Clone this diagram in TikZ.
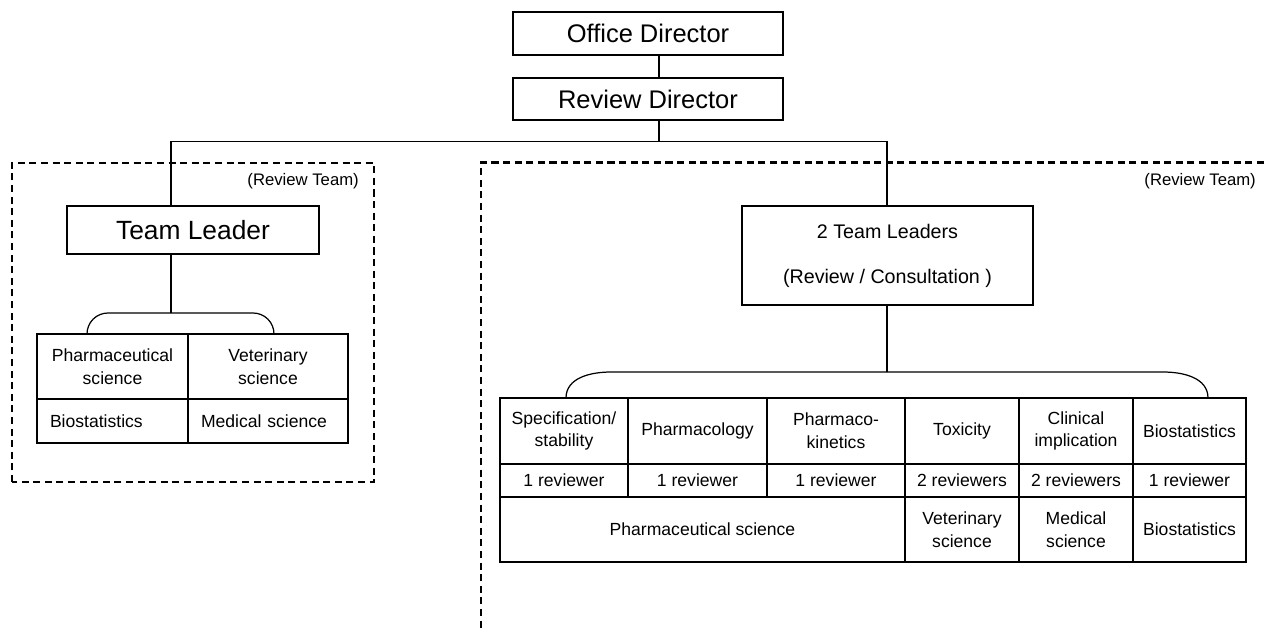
\documentclass[tikz,border=0pt]{standalone}
\usepackage{fontspec}
\setmainfont{Liberation Sans}
\usetikzlibrary{positioning,calc}

\begin{document}
\begin{tikzpicture}[
  every node/.style={font=\fontsize{10}{13}\selectfont},
  box/.style={
    draw,
    line width=0.8pt,
    inner sep=0pt,
    align=center
  },
  cell/.style={
    draw,
    line width=0.9pt,
    inner sep=0pt,
    align=center
  },
  lcell/.style={
    draw,
    line width=0.9pt,
    inner ysep=0pt,
    inner xsep=0.26cm,
    align=left
  },
  team/.style={dash pattern=on 4pt off 2.6pt, line width=1.4pt},
  link/.style={line width=0.6pt},
  brace/.style={line width=0.7pt},
  tag/.style={anchor=east, font=\fontsize{9.5}{11}\selectfont}
]

\useasboundingbox (0,0) rectangle (25.28,12.6);

% ------------------------------------------------
% Directors
% ------------------------------------------------
\node[box, minimum width=5.4cm, minimum height=0.86cm, font=\fontsize{14.5}{17}\selectfont]
  (office) at (12.96,11.93) {Office Director};
\node[box, minimum width=5.4cm, minimum height=0.84cm, font=\fontsize{14.5}{17}\selectfont]
  (review) at (12.96,10.62) {Review Director};

% bus lane (hidden helpers)
\coordinate (spine) at (13.18,9.77);
\coordinate (lbus)  at (3.42,9.77);
\coordinate (rbus)  at (17.74,9.77);

% ------------------------------------------------
% Left review team
% ------------------------------------------------
\draw[team] (0.24,2.96) rectangle (7.48,9.34);
\node[tag] (ltag) at (7.30,8.98) {(Review Team)};

\node[box, minimum width=5.04cm, minimum height=0.96cm, font=\fontsize{15}{18}\selectfont]
  (leader) at (3.86,8.0) {Team Leader};

\node[cell, minimum width=3.02cm, minimum height=1.30cm] (lpharm) at (2.25,5.27) {Pharmaceutical\\science};
\node[cell, minimum width=3.20cm, minimum height=1.30cm] (lvet)   at (5.36,5.27) {Veterinary\\science};
\node[lcell, text width=2.50cm, minimum height=0.88cm]   (lbio)   at (2.25,4.18) {Biostatistics};
\node[lcell, text width=2.68cm, minimum height=0.88cm]   (lmed)   at (5.36,4.18) {Medical science};

\coordinate (lbrL) at (1.74,5.92);
\coordinate (lbrR) at (5.48,5.92);
\coordinate (lbrT) at (3.42,6.34);

% ------------------------------------------------
% Right review team
% ------------------------------------------------
\draw[team] (25.28,9.35) -- (9.62,9.35) -- (9.62,0);
\node[tag] (rtag) at (25.24,8.98) {(Review Team)};

\node[box, minimum width=5.82cm, minimum height=1.98cm, font=\fontsize{11.2}{13}\selectfont]
  (leaders) at (17.75,7.49) {2 Team Leaders\\[12.5pt](Review / Consultation )};

% first row: fields
\node[cell, minimum width=2.56cm, minimum height=1.32cm] (spec)  at (11.28,3.98) {Specification/\\stability};
\node[cell, minimum width=2.78cm, minimum height=1.32cm] (pcol)  at (13.95,3.98) {Pharmacology};
\node[cell, minimum width=2.76cm, minimum height=1.32cm] (pkin)  at (16.72,3.98) {Pharmaco-\\kinetics};
\node[cell, minimum width=2.28cm, minimum height=1.32cm] (tox)   at (19.24,3.98) {Toxicity};
\node[cell, minimum width=2.28cm, minimum height=1.32cm] (clin)  at (21.52,3.98) {Clinical\\implication};
\node[cell, minimum width=2.26cm, minimum height=1.32cm] (bio)   at (23.79,3.98) {Biostatistics};

% second row: reviewers
\node[cell, minimum width=2.56cm, minimum height=0.66cm] (specN) at (11.28,2.99) {1 reviewer};
\node[cell, minimum width=2.78cm, minimum height=0.66cm] (pcolN) at (13.95,2.99) {1 reviewer};
\node[cell, minimum width=2.76cm, minimum height=0.66cm] (pkinN) at (16.72,2.99) {1 reviewer};
\node[cell, minimum width=2.28cm, minimum height=0.66cm] (toxN)  at (19.24,2.99) {2 reviewers};
\node[cell, minimum width=2.28cm, minimum height=0.66cm] (clinN) at (21.52,2.99) {2 reviewers};
\node[cell, minimum width=2.26cm, minimum height=0.66cm] (bioN)  at (23.79,2.99) {1 reviewer};

% third row: backgrounds
\node[cell, minimum width=8.10cm, minimum height=1.30cm] (rpharm) at (14.05,2.01) {Pharmaceutical science};
\node[cell, minimum width=2.28cm, minimum height=1.30cm] (rvet)   at (19.24,2.01) {Veterinary\\science};
\node[cell, minimum width=2.28cm, minimum height=1.30cm] (rmed)   at (21.52,2.01) {Medical\\science};
\node[cell, minimum width=2.26cm, minimum height=1.30cm] (rbio)   at (23.79,2.01) {Biostatistics};

\coordinate (rbrL) at (11.32,4.64);
\coordinate (rbrR) at (24.16,4.64);
\coordinate (rbrT) at (17.74,5.16);

% ------------------------------------------------
% Connectors
% ------------------------------------------------
\draw[link] (office.south -| spine) -- (review.north -| spine);
\draw[link] (review.south -| spine) -- (spine);
\draw[link] (leader.north -| lbus) -- (lbus) -- (rbus) -- (leaders.north -| rbus);

\draw[link] (leader.south -| lbus) -- (lbrT);
\draw[brace] (lbrL) to[out=90,in=180] ($(lbrL |- lbrT)+(0.42,0)$)
  -- ($(lbrR |- lbrT)+(-0.42,0)$) to[out=0,in=90] (lbrR);

\draw[link] (leaders.south -| rbus) -- (rbrT);
\draw[brace] (rbrL) to[out=90,in=180] ($(rbrL |- rbrT)+(0.9,0)$)
  -- ($(rbrR |- rbrT)+(-0.9,0)$) to[out=0,in=90] (rbrR);

\end{tikzpicture}
\end{document}
